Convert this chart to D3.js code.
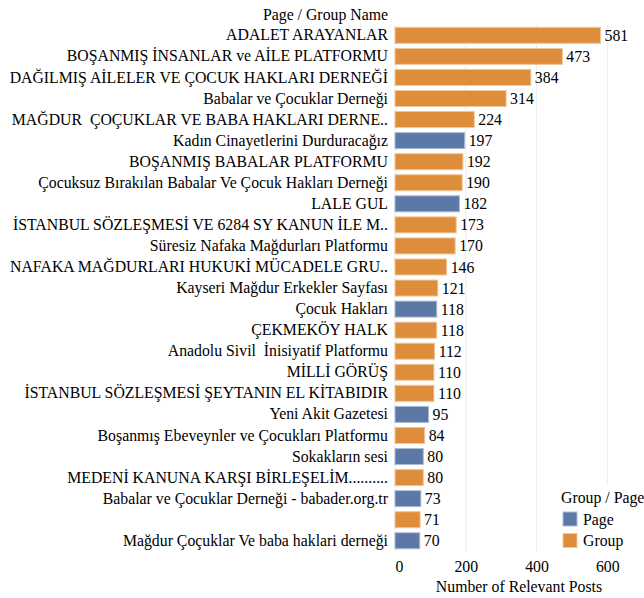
<!DOCTYPE html>
<html>
<head>
<meta charset="utf-8">
<script src="https://cdn.jsdelivr.net/npm/d3@7"></script>
<style>
  body { margin: 0; background: #fff; }
  svg text { font-family: "Liberation Serif", "Times New Roman", serif; fill: #000; white-space: pre; }
</style>
</head>
<body>
<div id="chart"></div>
<script>
// data
var names = [
  "ADALET ARAYANLAR",
  "BOŞANMIŞ İNSANLAR ve AİLE PLATFORMU",
  "DAĞILMIŞ AİLELER VE ÇOCUK HAKLARI DERNEĞİ",
  "Babalar ve Çocuklar Derneği",
  "MAĞDUR  ÇOÇUKLAR VE BABA HAKLARI DERNE..",
  "Kadın Cinayetlerini Durduracağız",
  "BOŞANMIŞ BABALAR PLATFORMU",
  "Çocuksuz Bırakılan Babalar Ve Çocuk Hakları Derneği",
  "LALE GUL",
  "İSTANBUL SÖZLEŞMESİ VE 6284 SY KANUN İLE M..",
  "Süresiz Nafaka Mağdurları Platformu",
  "NAFAKA MAĞDURLARI HUKUKİ MÜCADELE GRU..",
  "Kayseri Mağdur Erkekler Sayfası",
  "Çocuk Hakları",
  "ÇEKMEKÖY HALK",
  "Anadolu Sivil  İnisiyatif Platformu",
  "MİLLİ GÖRÜŞ",
  "İSTANBUL SÖZLEŞMESİ ŞEYTANIN EL KİTABIDIR",
  "Yeni Akit Gazetesi",
  "Boşanmış Ebeveynler ve Çocukları Platformu",
  "Sokakların sesi",
  "MEDENİ KANUNA KARŞI BİRLEŞELİM..........",
  "Babalar ve Çocuklar Derneği - babader.org.tr",
  "",
  "Mağdur Çoçuklar Ve baba haklari derneği"
]
var posts = [581, 473, 384, 314, 224, 197, 192, 190, 182, 173, 170, 146, 121, 118,
             118, 112, 110, 110, 95, 84, 80, 80, 73, 71, 70]
var kinds = ["Group", "Group", "Group", "Group", "Group", "Page", "Group", "Group", "Page",
             "Group", "Group", "Group", "Group", "Page", "Group", "Group", "Group", "Group",
             "Page", "Group", "Page", "Group", "Page", "Group", "Page"]
var kindNames = ["Page", "Group"]
var xTicks = [0, 200, 400, 600]

var data = names.map(function(n, i) {
    return { id: i, name: n, value: posts[i], kind: kinds[i] }
})

var width = 644,
    height = 598,
    fontSize = 15.8

var svg = d3.select("#chart").append("svg")
    .attr("width", width)
    .attr("height", height)

var x = d3.scaleLinear().domain([0, 600]).range([395, 607.3])

var y = d3.scaleBand()
    .domain(data.map(function(d) { return d.id }))
    .range([24.8, 551.3])
    .paddingInner(0.24)
    .paddingOuter(0.12)

var color = d3.scaleOrdinal().domain(kindNames).range(["#5b78a6", "#de8e3b"])
var stroke = d3.scaleOrdinal().domain(kindNames).range(["#aebcd3", "#efc79c"])

// grid
svg.append("g").selectAll("line")
    .data(xTicks)
    .join("line")
    .attr("x1", function(d) { return x(d) })
    .attr("x2", function(d) { return x(d) })
    .attr("y1", y.range()[0])
    .attr("y2", y.range()[1])
    .attr("stroke", "#ececec")
    .attr("stroke-width", 1)

// bars
svg.append("g").selectAll("rect")
    .data(data)
    .join("rect")
    .attr("x", x(0))
    .attr("y", function(d) { return y(d.id) })
    .attr("width", function(d) { return x(d.value) - x(0) })
    .attr("height", y.bandwidth())
    .attr("fill", function(d) { return color(d.kind) })
    .attr("stroke", function(d) { return stroke(d.kind) })
    .attr("stroke-width", 1)

// value labels
svg.append("g").selectAll("text")
    .data(data)
    .join("text")
    .attr("x", function(d) { return x(d.value) + 4 })
    .attr("y", function(d) { return y(d.id) + y.bandwidth() / 2 })
    .attr("dy", "0.35em")
    .style("font-size", fontSize + "px")
    .text(function(d) { return d.value })

// y axis
var yAxis = d3.axisLeft(y)
    .tickSize(0)
    .tickPadding(7)
    .tickFormat(function(d) { return names[d] })

var gy = svg.append("g")
    .attr("transform", "translate(" + x(0) + ",0)")
    .call(yAxis)
gy.select(".domain").remove()
gy.selectAll("text")
    .style("font-size", fontSize + "px")
    .style("font-family", "'Liberation Serif', serif")

svg.append("text")
    .attr("x", x(0) - 7)
    .attr("y", 20)
    .attr("text-anchor", "end")
    .style("font-size", fontSize + "px")
    .text("Page / Group Name")

// x axis
var xAxis = d3.axisBottom(x)
    .tickValues(xTicks)
    .tickSize(0)
    .tickPadding(9)

var gx = svg.append("g")
    .attr("transform", "translate(0," + y.range()[1] + ")")
    .call(xAxis)
gx.select(".domain").remove()
gx.selectAll("text")
    .style("font-size", fontSize + "px")
    .style("font-family", "'Liberation Serif', serif")
    .attr("text-anchor", function(d) { return d === 0 ? "start" : "middle" })

svg.append("text")
    .attr("x", 519)
    .attr("y", 592)
    .attr("text-anchor", "middle")
    .style("font-size", fontSize + "px")
    .text("Number of Relevant Posts")

// legend
var legend = svg.append("g").attr("transform", "translate(556,485)")

legend.append("rect")
    .attr("width", 88)
    .attr("height", 66)
    .attr("fill", "#fff")

legend.append("text")
    .attr("x", 5)
    .attr("y", 18)
    .style("font-size", fontSize + "px")
    .text("Group / Page")

var item = legend.selectAll(".item")
    .data(kindNames)
    .join("g")
    .attr("class", "item")
    .attr("transform", function(d, i) { return "translate(7," + (27 + i * 21.5) + ")" })

item.append("rect")
    .attr("width", 14)
    .attr("height", 14)
    .attr("fill", function(d) { return color(d) })
    .attr("stroke", function(d) { return stroke(d) })

item.append("text")
    .attr("x", 20)
    .attr("y", 7)
    .attr("dy", "0.35em")
    .style("font-size", fontSize + "px")
    .text(function(d) { return d })
</script>
</body>
</html>
